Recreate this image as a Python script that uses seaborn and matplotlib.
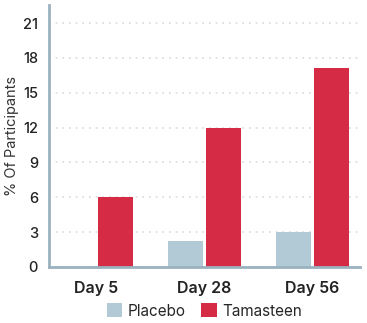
import matplotlib
matplotlib.use("Agg")
import matplotlib.pyplot as plt
import seaborn as sns
import pandas as pd

days = ["Day 5", "Day 28", "Day 56"]
placebo = [0.0, 2.2, 3.0]
tamasteen = [6.0, 12.0, 17.1]
groups = ["Placebo", "Tamasteen"]
yticks = [0, 3, 6, 9, 12, 15, 18, 21]

df = pd.DataFrame({
    "day": days * 2,
    "group": [groups[0]] * 3 + [groups[1]] * 3,
    "value": placebo + tamasteen,
})

sns.set_theme(style="white")
plt.rcParams["font.family"] = ["Inter", "DejaVu Sans"]

fig = plt.figure(figsize=(3.67, 3.23), dpi=100)
ax = fig.add_axes([49 / 367, 1 - 267 / 323, (360 - 49) / 367, (267 - 5) / 323])

sns.barplot(data=df, x="day", y="value", hue="group", order=days, hue_order=groups,
            palette=["#B1CAD6", "#D62B45"], width=0.7, gap=0.08, saturation=1,
            linewidth=0, ax=ax, zorder=3)

ax.set_xlim(-0.44, 2.44)
ax.set_ylim(0, 22.55)
ax.set_yticks(yticks)
ax.set_yticklabels([str(t) for t in yticks], fontsize=10.5, fontweight="medium", color="#222222")
ax.tick_params(axis="x", labelsize=11.5, colors="#222222", pad=10, length=0)
for lab in ax.get_xticklabels():
    lab.set_fontweight("semibold")
ax.tick_params(axis="y", length=0, pad=8)
ax.set_xlabel("")
ax.set_ylabel("% Of Participants", fontsize=10.5, color="#333333", labelpad=3)

ax.grid(axis="y", color="#d9d9d9", linestyle=(0, (1, 3)), linewidth=1.2, zorder=0)
ax.grid(axis="x", visible=False)
for side in ["top", "right"]:
    ax.spines[side].set_visible(False)
for side in ["left", "bottom"]:
    ax.spines[side].set_color("#9AB2BF")
    ax.spines[side].set_linewidth(2)
    ax.spines[side].set_zorder(4)

ax.legend(loc="center", bbox_to_anchor=(0.5, -0.168), ncol=2, frameon=False,
          fontsize=11, handlelength=1.0, handleheight=1.0, handletextpad=0.4,
          columnspacing=1.0, borderpad=0)

fig.savefig("out.png", dpi=100)
